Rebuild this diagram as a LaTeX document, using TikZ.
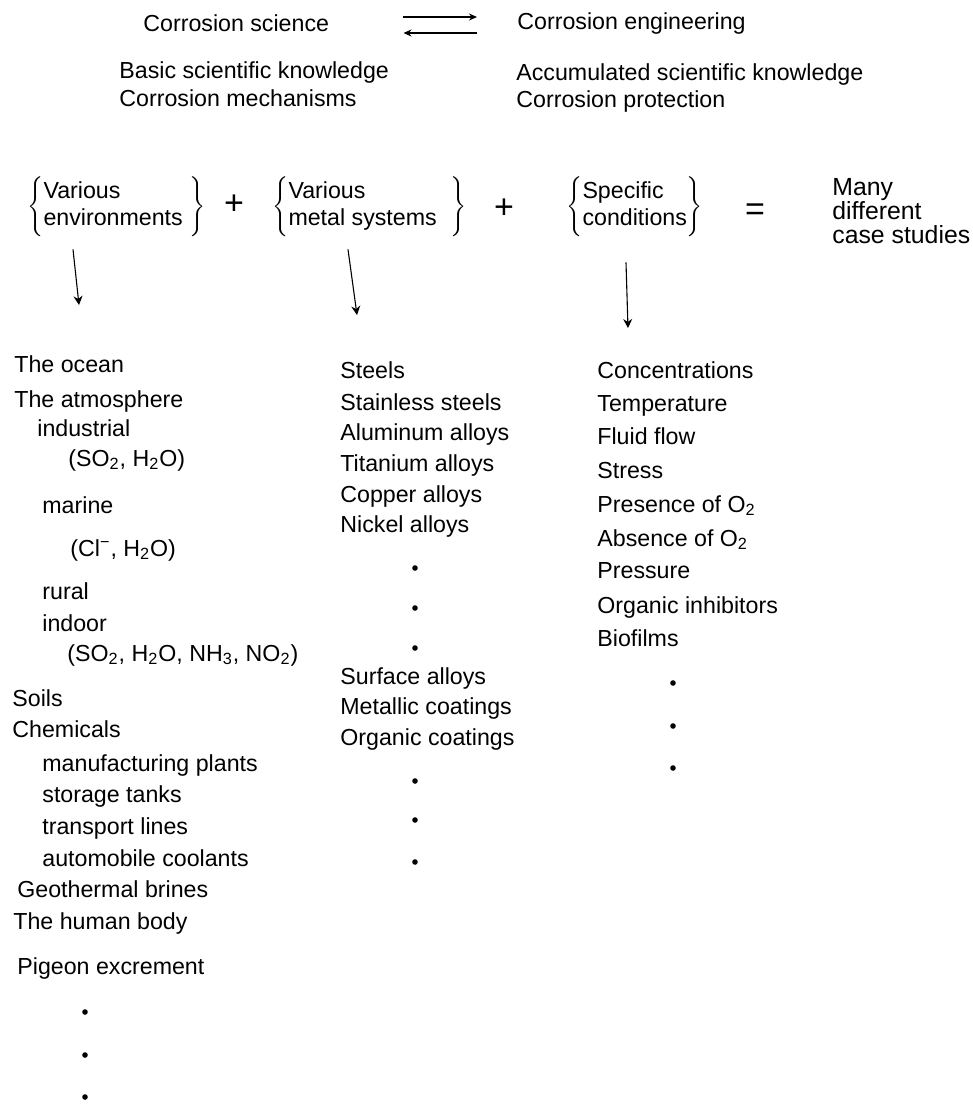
\documentclass[tikz,border=0pt]{standalone}
\usepackage{fontspec}
\setmainfont{Liberation Sans}
\usetikzlibrary{calc,arrows.meta}

\tikzset{
	txt/.style={anchor=west, inner sep=0pt, font=\fontsize{11.6}{14}\selectfont, text height=11pt, text depth=2pt},
	grp/.style={anchor=west, inner sep=0pt, font=\fontsize{11.6}{13.5}\selectfont},
	sign/.style={inner sep=0pt, font=\fontsize{17}{17}\selectfont},
	arr/.style={-{Stealth[length=4.5pt,width=4.5pt]}, line width=0.55pt},
	swap/.style={-{Stealth[length=4pt,width=3.5pt]}, line width=0.7pt}
}
\def\etc(#1,#2){\fill (#1,#2) circle (2.8);}

\begin{document}
\begin{tikzpicture}[x=0.5pt, y=-0.5pt]
		%%%%% START %%%%%
		\useasboundingbox (0,0) rectangle (973,1110);
		
		\node[txt] (sci) at (143,22) {Corrosion science};
		\node[txt] (eng) at (517,20) {Corrosion engineering};
		\node[txt] (basic) at (119,69) {Basic scientific knowledge};
		\node[txt] (mech) at (119,97) {Corrosion mechanisms};
		\node[txt] (accum) at (516,71) {Accumulated scientific knowledge};
		\node[txt] (prot) at (516,98) {Corrosion protection};
		
		\draw[swap] ($(sci.east)+(74,-5)$) -- ($(eng.west)+(-40,-3)$);
		\draw[swap] ($(eng.west)+(-40,13)$) -- ($(sci.east)+(74,11)$);
		
		\node[grp] (envs) at (27,207) {$\left\{\mbox{\begin{tabular}{@{}l@{}}Various\\environments\end{tabular}}\;\right\}$};
		\node[sign] (plusa) at (234,205) {+};
		\node[grp] (metals) at (272,207) {$\left\{\mbox{\begin{tabular}{@{}l@{}}Various\\metal systems\end{tabular}}\;\;\right\}$};
		\node[sign] (plusb) at (504,209) {+};
		\node[grp] (conds) at (566,207) {$\left\{\mbox{\begin{tabular}{@{}l@{}}Specific\\conditions\end{tabular}}\right\}$};
		\node[sign] (eq) at (755,212) {=};
		\node[anchor=west, inner sep=0pt, align=left, font=\fontsize{12.4}{11.8}\selectfont] (cases) at (832,211) {Many\\different\\case studies};
		
		% environments
		\node[txt] (ocean) at (14,363) {The ocean};
		\node[txt] (atmos) at (14,398) {The atmosphere};
		\node[txt] (indus) at (37,427) {industrial};
		\node[txt] (indusgas) at (68,457) {(SO\textsubscript{2}, H\textsubscript{2}O)};
		\node[txt] (marine) at (42,504) {marine};
		\node[txt] (marinegas) at (70,547) {(Cl\textsuperscript{−}, H\textsubscript{2}O)};
		\node[txt] (rural) at (42,590) {rural};
		\node[txt] (indoor) at (42,622) {indoor};
		\node[txt] (indoorgas) at (67,652) {(SO\textsubscript{2}, H\textsubscript{2}O, NH\textsubscript{3}, NO\textsubscript{2})};
		\node[txt] (soils) at (12,697) {Soils};
		\node[txt] (chem) at (12,728) {Chemicals};
		\node[txt] (manuf) at (42,762) {manufacturing plants};
		\node[txt] (storage) at (42,793) {storage tanks};
		\node[txt] (transport) at (42,825) {transport lines};
		\node[txt] (coolant) at (42,857) {automobile coolants};
		\node[txt] (geo) at (17,888) {Geothermal brines};
		\node[txt] (human) at (13,920) {The human body};
		\node[txt] (pigeon) at (17,965) {Pigeon excrement};
		\etc(85,1012) \etc(85,1055) \etc(85,1097)
		
		% metal systems
		\node[txt] (steels) at (340,369) {Steels};
		\node[txt] (stainless) at (340,401) {Stainless steels};
		\node[txt] (alu) at (340,431) {Aluminum alloys};
		\node[txt] (ti) at (340,462) {Titanium alloys};
		\node[txt] (cu) at (340,493) {Copper alloys};
		\node[txt] (ni) at (340,523) {Nickel alloys};
		\etc(415,568) \etc(415,608) \etc(415,648)
		\node[txt] (surface) at (340,675) {Surface alloys};
		\node[txt] (metallic) at (340,705) {Metallic coatings};
		\node[txt] (organic) at (340,736) {Organic coatings};
		\etc(415,781) \etc(415,820) \etc(415,862)
		
		% conditions
		\node[txt] (conc) at (597,369) {Concentrations};
		\node[txt] (temp) at (597,402) {Temperature};
		\node[txt] (fluid) at (597,435) {Fluid flow};
		\node[txt] (stress) at (597,469) {Stress};
		\node[txt] (preso) at (597,503) {Presence of O\textsubscript{2}};
		\node[txt] (abso) at (597,537) {Absence of O\textsubscript{2}};
		\node[txt] (press) at (597,569) {Pressure};
		\node[txt] (inhib) at (597,604) {Organic inhibitors};
		\node[txt] (bio) at (597,637) {Biofilms};
		\etc(673,683) \etc(673,726) \etc(673,768)
		
		\coordinate (envtip) at (79,305);
		\coordinate (mettip) at (357,315);
		\coordinate (contip) at (628,328);
		\draw[arr] ($(envs.south west)+(46,12)$) -- (envtip);
		\draw[arr] ($(metals.south west)+(76,12)$) -- (mettip);
		\draw[arr] ($(conds.south west)+(60,25)$) -- (contip);
		
		%%%%% END %%%%%
	\end{tikzpicture}
\end{document}
